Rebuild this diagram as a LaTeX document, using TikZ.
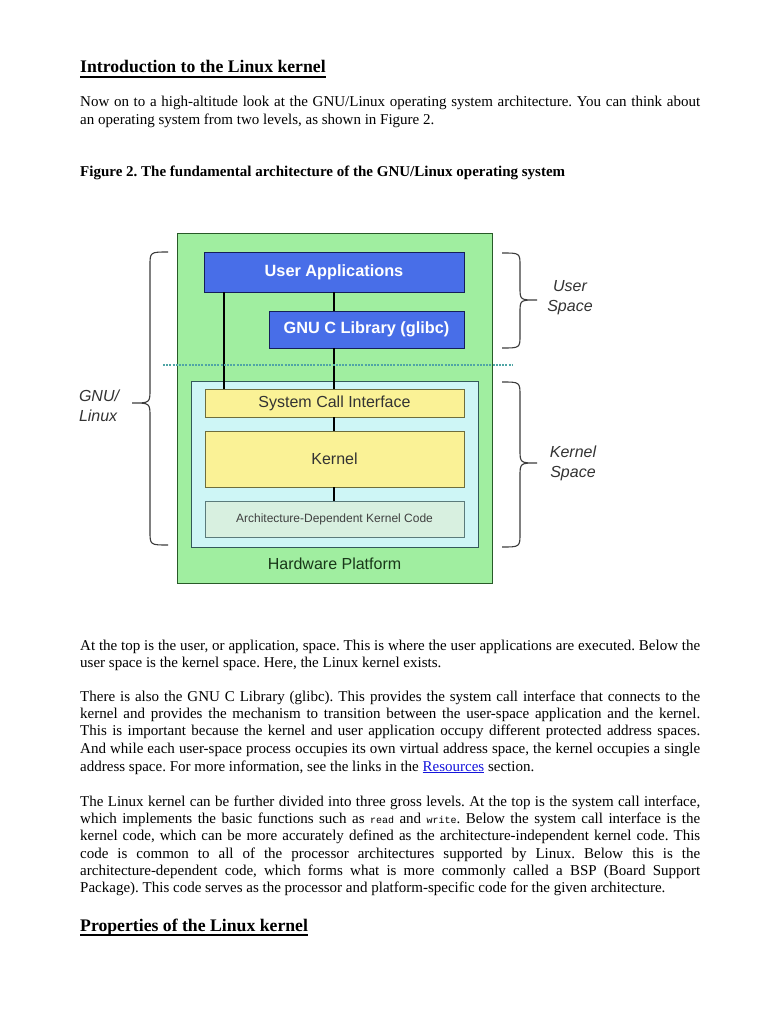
\documentclass[tikz,border=0pt]{standalone}
\usepackage{fontspec}
\setmainfont{Liberation Serif}
\newfontfamily\figsans{Liberation Sans}
\newfontfamily\codefont{Liberation Mono}
\usetikzlibrary{calc}
\frenchspacing
\definecolor{hwgreen}{RGB}{160,238,160}
\definecolor{hwborder}{RGB}{40,90,40}
\definecolor{ublue}{RGB}{72,110,232}
\definecolor{ubborder}{RGB}{20,30,90}
\definecolor{kcyan}{RGB}{206,246,246}
\definecolor{kborder}{RGB}{50,90,90}
\definecolor{kyellow}{RGB}{250,242,150}
\definecolor{yborder}{RGB}{110,110,60}
\definecolor{archfill}{RGB}{216,240,224}
\definecolor{dotline}{RGB}{80,165,165}
\definecolor{hwtext}{RGB}{25,55,25}
\definecolor{linkblue}{RGB}{20,20,220}
\definecolor{bracegray}{RGB}{60,60,60}
\begin{document}
\begin{tikzpicture}[x=1pt,y=-1pt,
  body/.style={anchor=base west, inner sep=0pt, font=\fontsize{15}{17}\selectfont},
  headline/.style={anchor=base west, inner sep=0pt, font=\fontsize{17.7}{20}\selectfont\bfseries},
  capline/.style={anchor=base west, inner sep=0pt, font=\fontsize{15}{17}\selectfont\bfseries},
  fbox/.style={draw, line width=0.9pt, inner sep=0pt},
  bluebox/.style={fbox, draw=ubborder, fill=ublue, text=white, font=\figsans\bfseries\fontsize{16.3}{18}\selectfont},
  yelbox/.style={fbox, draw=yborder, fill=kyellow, text=black!80, font=\figsans\fontsize{16}{19}\selectfont},
  sidelabel/.style={font=\figsans\itshape\fontsize{16}{20}\selectfont, text=black!80, inner sep=0pt},
  bracestyle/.style={draw=bracegray, line width=1.1pt},
  vline/.style={draw=black, line width=1.3pt}
]
\fill[white] (0,0) rectangle (768,1024);
\useasboundingbox (0,0) rectangle (768,1024);

% ---- text above ----
\node[headline] (h1) at (80,73) {Introduction to the Linux kernel};
\draw[line width=1.1pt] ($(h1.base west)+(0,4)$) -- ($(h1.base east)+(0,4)$);
\node[body] (p1a) at (80,107) {\makebox[620pt][s]{Now on to a high-altitude look at the GNU/Linux operating system architecture. You can think about}};
\node[body] (p1b) at (80,125) {an operating system from two levels, as shown in Figure 2.};
\node[capline] (cap) at (80,177) {Figure 2. The fundamental architecture of the GNU/Linux operating system};

% ---- figure ----
\node[fbox, draw=hwborder, fill=hwgreen, minimum width=315pt, minimum height=350pt] (hw) at (334.5,408) {};
\node[font=\figsans\fontsize{16}{19}\selectfont, text=hwtext, inner sep=0pt] (hwl) at (334.5,564) {Hardware Platform};
\node[fbox, draw=kborder, fill=kcyan, minimum width=287pt, minimum height=166pt] (ks) at (334.5,464) {};
\node[bluebox, minimum width=260pt, minimum height=40pt] (ua) at (334,272) {User Applications};
\node[bluebox, minimum width=195pt, minimum height=37pt] (gl) at (366.5,329.5) {GNU C Library (glibc)};
\node[yelbox, minimum width=259pt, minimum height=28pt] (sci) at (334.5,403) {System Call Interface};
\node[yelbox, minimum width=259pt, minimum height=56pt] (kn) at (334.5,459) {Kernel};
\node[fbox, draw=kborder!80, fill=archfill, text=black!75, font=\figsans\fontsize{12}{14}\selectfont, minimum width=259pt, minimum height=36pt] (arch) at (334.5,519) {Architecture-Dependent Kernel Code};

\coordinate (lx) at (224,0);
\coordinate (cx) at (334,0);
\draw[vline] (ua.south -| lx) -- (sci.north -| lx);
\draw[vline] (ua.south -| cx) -- (gl.north -| cx);
\draw[vline] (gl.south -| cx) -- (sci.north -| cx);
\draw[vline] (sci.south -| cx) -- (kn.north -| cx);
\draw[vline] (kn.south -| cx) -- (arch.north -| cx);

\coordinate (dl) at (163,365);
\coordinate (dr) at (512,365);
\draw[dotline, line width=1.4pt, dash pattern=on 2pt off 1.2pt] (dl) -- (dr);

% braces
\draw[bracestyle] (168,252) .. controls (150,252) .. (150,266) -- (150,389) .. controls (150,403) .. (132,403) .. controls (150,403) .. (150,417) -- (150,531) .. controls (150,545) .. (168,545);
\draw[bracestyle] (502,253) .. controls (520,253) .. (520,266) -- (520,287) .. controls (520,300) .. (537,300) .. controls (520,300) .. (520,313) -- (520,335) .. controls (520,348) .. (502,348);
\draw[bracestyle] (502,382) .. controls (520,382) .. (520,396) -- (520,449) .. controls (520,463) .. (537,463) .. controls (520,463) .. (520,477) -- (520,533) .. controls (520,547) .. (502,547);

\node[sidelabel, align=left] (gnu) at (99,406) {GNU/\\Linux};
\node[sidelabel, align=center] (us) at (570,298) {User\\Space};
\node[sidelabel, align=center] (ksp) at (573,463) {Kernel\\Space};

% ---- text below ----
\node[body] (p2a) at (80,650) {\makebox[620pt][s]{At the top is the user, or application, space. This is where the user applications are executed. Below the}};
\node[body] (p2b) at (80,667) {user space is the kernel space. Here, the Linux kernel exists.};

\node[body] (p3a) at (80,701) {\makebox[620pt][s]{There is also the GNU C Library (glibc). This provides the system call interface that connects to the}};
\node[body] (p3b) at (80,718) {\makebox[620pt][s]{kernel and provides the mechanism to transition between the user-space application and the kernel.}};
\node[body] (p3c) at (80,735) {\makebox[620pt][s]{This is important because the kernel and user application occupy different protected address spaces.}};
\node[body] (p3d) at (80,753) {\makebox[620pt][s]{And while each user-space process occupies its own virtual address space, the kernel occupies a single}};
\node[body] (p3e) at (80,771) {address space. For more information, see the links in the \textcolor{linkblue}{\underline{Resources}} section.};

\node[body] (p4a) at (80,806) {\makebox[620pt][s]{The Linux kernel can be further divided into three gross levels. At the top is the system call interface,}};
\node[body] (p4b) at (80,823) {\makebox[620pt][s]{which implements the basic functions such as {\codefont\fontsize{10}{12}\selectfont read} and {\codefont\fontsize{10}{12}\selectfont write}. Below the system call interface is the}};
\node[body] (p4c) at (80,840) {\makebox[620pt][s]{kernel code, which can be more accurately defined as the architecture-independent kernel code. This}};
\node[body] (p4d) at (80,858) {\makebox[620pt][s]{code is common to all of the processor architectures supported by Linux. Below this is the}};
\node[body] (p4e) at (80,875) {\makebox[620pt][s]{architecture-dependent code, which forms what is more commonly called a BSP (Board Support}};
\node[body] (p4f) at (80,892) {Package). This code serves as the processor and platform-specific code for the given architecture.};

\node[headline] (h2) at (80,931) {Properties of the Linux kernel};
\draw[line width=1.1pt] ($(h2.base west)+(0,4)$) -- ($(h2.base east)+(0,4)$);
\end{tikzpicture}
\end{document}
